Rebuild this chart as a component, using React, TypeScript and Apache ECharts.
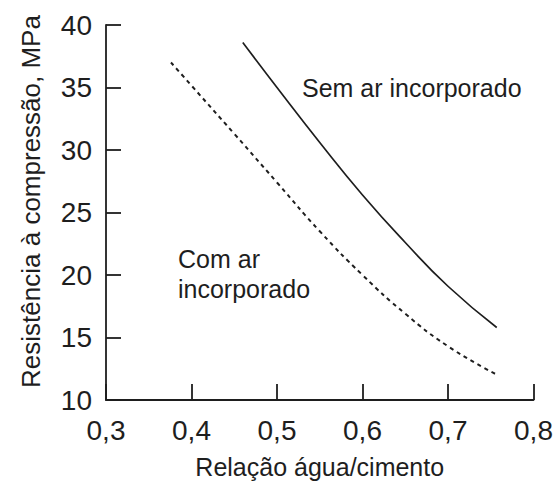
import React, { useEffect, useRef } from "react";
import * as echarts from "echarts";

const xTicks = [0.3, 0.4, 0.5, 0.6, 0.7, 0.8];
const yTicks = [10, 15, 20, 25, 30, 35, 40];

const semArX = [0.46, 0.5, 0.55, 0.6, 0.65, 0.7, 0.757];
const semArY = [38.6, 35.0, 30.6, 26.4, 22.6, 19.1, 15.8];

const comArX = [0.376, 0.4, 0.45, 0.5, 0.55, 0.6, 0.65, 0.7, 0.755];
const comArY = [37.0, 35.15, 31.3, 27.4, 23.5, 20.0, 16.9, 14.3, 12.1];

const FONT = 'Arial, "Liberation Sans", Helvetica, sans-serif';
const INK = "#1e1e1e";

export default function App() {
  const ref = useRef<HTMLDivElement>(null);
  useEffect(() => {
    if (!ref.current) return;
    const chart = echarts.init(ref.current, undefined, { renderer: "svg" });
    const pairs = (xs: number[], ys: number[]) => xs.map((x, i) => [x, ys[i]]);
    chart.setOption({
      animation: false,
      backgroundColor: "#ffffff",
      textStyle: { fontFamily: FONT },
      grid: { left: 106, right: 23.5, top: 25, bottom: 83, containLabel: false, outerBoundsMode: "none" },
      xAxis: {
        type: "value",
        min: xTicks[0],
        max: xTicks[xTicks.length - 1],
        interval: 0.1,
        name: "Relação água/cimento",
        nameLocation: "middle",
        nameGap: 54,
        nameTextStyle: { fontSize: 25, color: INK, fontFamily: FONT },
        axisLine: { show: true, onZero: false, lineStyle: { color: INK, width: 1.8 } },
        axisTick: { show: true, inside: true, length: 16, lineStyle: { color: INK, width: 1.8 } },
        axisLabel: {
          fontSize: 28,
          color: INK,
          fontFamily: FONT,
          margin: 16,
          formatter: (v: number) => v.toFixed(1).replace(".", ","),
        },
        splitLine: { show: false },
      },
      yAxis: {
        type: "value",
        min: yTicks[0],
        max: yTicks[yTicks.length - 1],
        interval: 5,
        name: "Resistência à compressão, MPa",
        nameLocation: "middle",
        nameRotate: 90,
        nameGap: 62,
        nameTextStyle: { fontSize: 26, color: INK, fontFamily: FONT, padding: [0, 0, 0, 22] },
        axisLine: { show: true, onZero: false, lineStyle: { color: INK, width: 1.8 } },
        axisTick: { show: true, inside: true, length: 15, lineStyle: { color: INK, width: 1.8 } },
        axisLabel: { fontSize: 28, color: INK, fontFamily: FONT, margin: 14, padding: [0, 0, 8, 0] },
        splitLine: { show: false },
      },
      series: [
        {
          name: "Sem ar incorporado",
          type: "line",
          smooth: true,
          showSymbol: false,
          data: pairs(semArX, semArY),
          lineStyle: { color: INK, width: 1.7, type: "solid" },
        },
        {
          name: "Com ar incorporado",
          type: "line",
          smooth: true,
          showSymbol: false,
          data: pairs(comArX, comArY),
          lineStyle: { color: INK, width: 2, type: [4, 4] },
        },
      ],
      graphic: [
        {
          type: "text",
          x: 302,
          y: 88,
          style: {
            text: "Sem ar incorporado",
            fontSize: 25,
            fontFamily: FONT,
            fill: INK,
            verticalAlign: "middle",
          },
        },
        {
          type: "text",
          x: 178,
          y: 274,
          style: {
            text: "Com ar\nincorporado",
            fontSize: 25,
            lineHeight: 30,
            fontFamily: FONT,
            fill: INK,
            verticalAlign: "middle",
          },
        },
      ],
    });
    return () => chart.dispose();
  }, []);
  return (
    <div
      ref={ref}
      style={{ position: "absolute", left: 0, top: 0, width: 557, height: 483 }}
    />
  );
}
